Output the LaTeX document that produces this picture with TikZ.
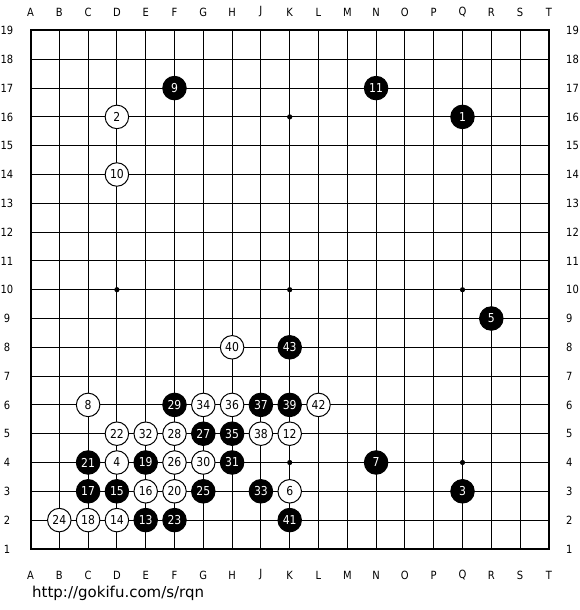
\documentclass[tikz,border=0pt]{standalone}
\usepackage{fontspec}
\setmainfont{DejaVu Sans}
\newfontfamily\goban[FakeStretch=0.88]{DejaVu Sans}
\usetikzlibrary{calc}

\begin{document}
\begin{tikzpicture}[x=1pt,y=-1pt,
  gridline/.style={line width=1pt},
  lbl/.style={inner sep=0pt,font=\goban\fontsize{11.3}{11.3}\selectfont},
  bstone/.style={circle,fill=black,draw=black,line width=1pt,minimum size=23.5pt,inner sep=0pt,
    text=white,font=\goban\fontsize{12.3}{12.3}\selectfont},
  wstone/.style={circle,fill=white,draw=black,line width=1pt,minimum size=23.5pt,inner sep=0pt,
    text=black,font=\goban\fontsize{12.3}{12.3}\selectfont}]
  \useasboundingbox (0,0) rectangle (580,610);

  %% Rows and their numbers
  \foreach \n in {1,...,19}
  {
    \coordinate (r\n) at (0,{30.5+(19-\n)*28.8});
    \node[lbl] (L\n) at (7,{30.5+(19-\n)*28.8}) {\n};
    \node[lbl,anchor=west] (R\n) at (566,{30.5+(19-\n)*28.8}) {\n};
  }

  %% Columns and their letters
  \foreach \l [count=\i from 0] in {A,B,C,D,E,F,G,H,J,K,L,M,N,O,P,Q,R,S,T}
  {
    \coordinate (c\l) at ({30.5+\i*28.8},0);
    \node[lbl] (top\l) at ({30.5+\i*28.8},12) {\l};
    \node[lbl] (bot\l) at ({30.5+\i*28.8},575) {\l};
    \draw[gridline] (c\l |- r1) -- (c\l |- r19);
  }
  \foreach \n in {1,...,19}
    \draw[gridline] (cA |- r\n) -- (cT |- r\n);

  %% Board edge
  \draw[line width=2pt] (cA |- r19) rectangle (cT |- r1);

  %% Star points
  \foreach \c/\r in {D/4,K/4,Q/4,D/10,K/10,Q/10,D/16,K/16,Q/16}
    \fill (c\c |- r\r) circle (2.6pt);

  %% Black stones
  \foreach \c/\r/\m in {Q/16/1,Q/3/3,R/9/5,N/4/7,F/17/9,N/17/11,E/2/13,D/3/15,C/3/17,E/4/19,
    C/4/21,F/2/23,G/3/25,G/5/27,F/6/29,H/4/31,J/3/33,H/5/35,J/6/37,K/6/39,K/2/41,K/8/43}
    \node[bstone] (S\m) at (c\c |- r\r) {\m};

  %% White stones
  \foreach \c/\r/\m in {D/16/2,D/4/4,K/3/6,C/6/8,D/14/10,K/5/12,D/2/14,E/3/16,C/2/18,F/3/20,
    D/5/22,B/2/24,F/4/26,F/5/28,G/4/30,E/5/32,G/6/34,H/6/36,J/5/38,H/8/40,L/6/42}
    \node[wstone] (S\m) at (c\c |- r\r) {\m};

  \node[anchor=west,inner sep=0pt,font=\fontsize{15}{15}\selectfont] (url) at (32,593) {http://gokifu.com/s/rqn};
\end{tikzpicture}
\end{document}
